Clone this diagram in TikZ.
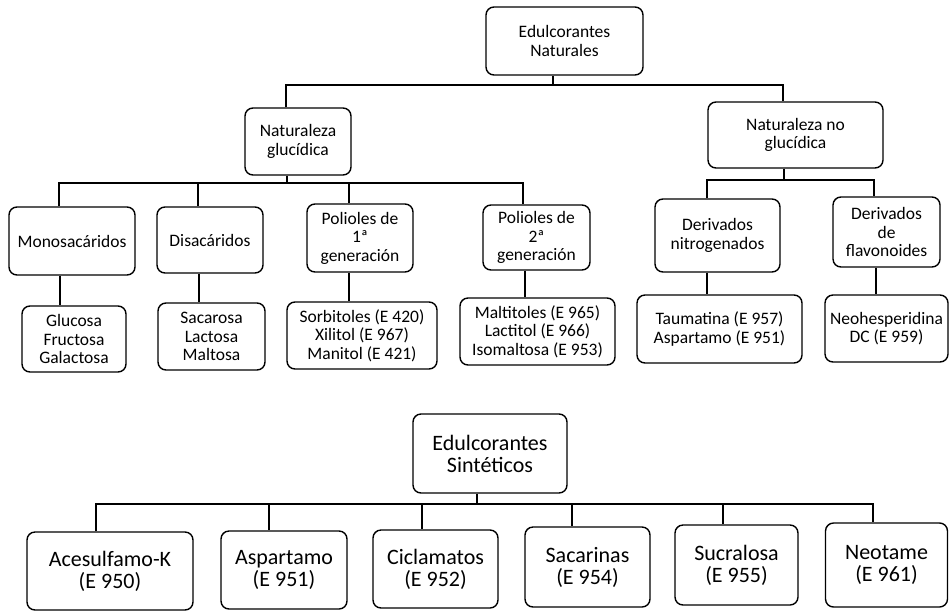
\documentclass[tikz,border=0pt]{standalone}
\usepackage{fontspec}
\setmainfont{Carlito}
\begin{document}
\begin{tikzpicture}[x=1pt,y=-1pt,
  box/.style={draw,rounded corners=8pt,line width=1.4pt,align=center,inner sep=0pt,
    font=\fontsize{17.5}{18.5}\selectfont},
  bigbox/.style={box,font=\fontsize{22}{22}\selectfont},
  ln/.style={line width=1.4pt}]
\useasboundingbox (0,0) rectangle (949,611);
% --- Natural sweeteners ---
\node[box,minimum width=157pt,minimum height=68pt] (en) at (564.5,41) {Edulcorantes\\Naturales};
\node[box,minimum width=106pt,minimum height=67pt] (ng) at (298,141.5) {Naturaleza\\glucídica};
\node[box,minimum width=175pt,minimum height=66pt] (nng) at (795.5,135) {Naturaleza no\\glucídica};
\node[box,minimum width=126pt,minimum height=68pt] (mono) at (72,241) {Monosacáridos};
\node[box,minimum width=106pt,minimum height=66pt] (dis) at (210,240) {Disacáridos};
\node[box,minimum width=106pt,minimum height=68pt] (p1) at (360,238) {Polioles de\\1ª\\generación};
\node[box,minimum width=107pt,minimum height=65pt] (p2) at (536.5,237.5) {Polioles de\\2ª\\generación};
\node[box,minimum width=125pt,minimum height=73pt] (dn) at (717.5,235.5) {Derivados\\nitrogenados};
\node[box,minimum width=107pt,minimum height=70pt] (df) at (886.5,232) {Derivados\\de\\flavonoides};
\node[box,minimum width=104pt,minimum height=66pt] (glu) at (74,339) {Glucosa\\Fructosa\\Galactosa};
\node[box,minimum width=107pt,minimum height=67pt] (sac) at (211.5,336.5) {Sacarosa\\Lactosa\\Maltosa};
\node[box,minimum width=150pt,minimum height=67pt] (sor) at (362,335.5) {Sorbitoles (E 420)\\Xilitol (E 967)\\Manitol (E 421)};
\node[box,minimum width=155pt,minimum height=67pt] (mal) at (537.5,331.5) {Maltitoles (E 965)\\Lactitol (E 966)\\Isomaltosa (E 953)};
\node[box,minimum width=165pt,minimum height=68pt] (tau) at (719.5,329) {Taumatina (E 957)\\Aspartamo (E 951)};
\node[box,minimum width=123pt,minimum height=67pt] (neo) at (886.5,328.5) {Neohesperidina\\DC (E 959)};
% connectors, natural
\coordinate (b0) at (553,85);
\coordinate (b0l) at (286,85);
\coordinate (b0r) at (783,85);
\draw[ln] (en.south -| b0) -- (b0);
\draw[ln] (ng.north -| b0l) -- (b0l) -- (b0r) -- (nng.north -| b0r);
\coordinate (b1s) at (287,183);
\coordinate (b1l) at (59,183);
\coordinate (b1b) at (198,183);
\coordinate (b1c) at (349,183);
\coordinate (b1r) at (523,183);
\draw[ln] (ng.south -| b1s) -- (b1s);
\draw[ln] (mono.north -| b1l) -- (b1l) -- (b1r) -- (p2.north -| b1r);
\draw[ln] (b1b) -- (b1b |- dis.north);
\draw[ln] (b1c) -- (b1c |- p1.north);
\coordinate (b2s) at (784,180);
\coordinate (b2l) at (707,180);
\coordinate (b2r) at (874,180);
\draw[ln] (nng.south -| b2s) -- (b2s);
\draw[ln] (dn.north -| b2l) -- (b2l) -- (b2r) -- (df.north -| b2r);
\coordinate (s1) at (60,290);
\coordinate (s2) at (199,290);
\coordinate (s3) at (349,290);
\coordinate (s4) at (525,290);
\coordinate (s5) at (707,290);
\coordinate (s6) at (876,290);
\draw[ln] (mono.south -| s1) -- (glu.north -| s1);
\draw[ln] (dis.south -| s2) -- (sac.north -| s2);
\draw[ln] (p1.south -| s3) -- (sor.north -| s3);
\draw[ln] (p2.south -| s4) -- (mal.north -| s4);
\draw[ln] (dn.south -| s5) -- (tau.north -| s5);
\draw[ln] (df.south -| s6) -- (neo.north -| s6);
% --- Synthetic sweeteners ---
\node[bigbox,minimum width=154pt,minimum height=79pt] (es) at (490,453.5) {Edulcorantes\\Sintéticos};
\node[bigbox,minimum width=166pt,minimum height=78pt] (ace) at (110,571) {Acesulfamo-K\\(E 950)};
\node[bigbox,minimum width=126pt,minimum height=78pt] (asp) at (284,570) {Aspartamo\\(E 951)};
\node[bigbox,minimum width=125pt,minimum height=78pt] (cic) at (435.5,569) {Ciclamatos\\(E 952)};
\node[bigbox,minimum width=125pt,minimum height=80pt] (sacar) at (587.5,567) {Sacarinas\\(E 954)};
\node[bigbox,minimum width=123pt,minimum height=80pt] (suc) at (736.5,565) {Sucralosa\\(E 955)};
\node[bigbox,minimum width=122pt,minimum height=84pt] (neot) at (886.5,565) {Neotame\\(E 961)};
\coordinate (b3s) at (477,504);
\coordinate (b3l) at (96,504);
\coordinate (b3b) at (269,504);
\coordinate (b3c) at (422,504);
\coordinate (b3d) at (572,504);
\coordinate (b3e) at (723,504);
\coordinate (b3r) at (873,504);
\draw[ln] (es.south -| b3s) -- (b3s);
\draw[ln] (ace.north -| b3l) -- (b3l) -- (b3r) -- (neot.north -| b3r);
\draw[ln] (b3b) -- (b3b |- asp.north);
\draw[ln] (b3c) -- (b3c |- cic.north);
\draw[ln] (b3d) -- (b3d |- sacar.north);
\draw[ln] (b3e) -- (b3e |- suc.north);
\end{tikzpicture}
\end{document}
